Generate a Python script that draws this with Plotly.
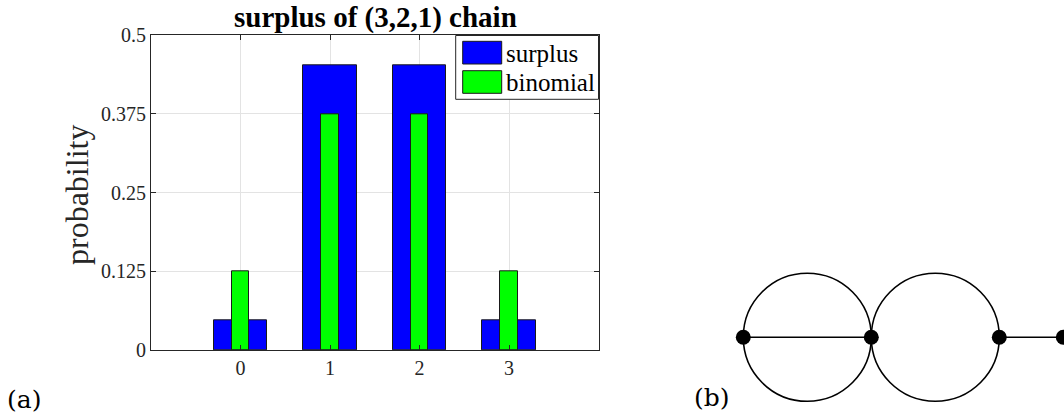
import plotly.graph_objects as go

# ---- data: panel (a) ----
categories = [0, 1, 2, 3]
surplus = [3/64, 29/64, 29/64, 3/64]
binomial = [1/8, 3/8, 3/8, 1/8]
ytick_vals = [0, 0.125, 0.25, 0.375, 0.5]
ytick_text = ["0", "0.125", "0.25", "0.375", "0.5"]
xtick_vals = [0, 1, 2, 3]
xtick_text = ["0", "1", "2", "3"]

# ---- data: panel (b) graph ----
node_x = [0, 2, 4, 5]
node_y = [0, 0, 0, 0]
edges = [(0, 1), (2, 3)]
circle_cx = [1, 3]
circle_cy = [0, 0]
circle_r = [1, 1]

W, H = 1064, 418
SERIF = "Liberation Serif, Times New Roman, serif"

def px(x):
    return x / W

def py(y):
    return 1 - y / H

fig = go.Figure()

fig.add_trace(go.Bar(x=categories, y=surplus, width=0.6, name="surplus",
                     marker=dict(color="#0000ff", line=dict(color="#1a1a1a", width=1)),
                     xaxis="x", yaxis="y", showlegend=False))
fig.add_trace(go.Bar(x=categories, y=binomial, width=0.2, name="binomial",
                     marker=dict(color="#00ff00", line=dict(color="#1a1a1a", width=1)),
                     xaxis="x", yaxis="y", showlegend=False))

# panel (b)
for a, b in edges:
    fig.add_trace(go.Scatter(x=[node_x[a], node_x[b]], y=[node_y[a], node_y[b]],
                             mode="lines", line=dict(color="black", width=1.6),
                             xaxis="x2", yaxis="y2", showlegend=False, hoverinfo="skip",
                             cliponaxis=False))
fig.add_trace(go.Scatter(x=node_x, y=node_y, mode="markers",
                         marker=dict(color="black", size=15),
                         xaxis="x2", yaxis="y2", showlegend=False, cliponaxis=False))

shapes = []
for cx, cy, r in zip(circle_cx, circle_cy, circle_r):
    shapes.append(dict(type="circle", xref="x2", yref="y2",
                       x0=cx - r, x1=cx + r, y0=cy - r, y1=cy + r,
                       line=dict(color="black", width=1.6), layer="below"))

# legend box (custom, MATLAB style)
shapes.append(dict(type="rect", xref="paper", yref="paper",
                   x0=px(455.7), x1=px(598.5), y0=py(99.3), y1=py(35.5),
                   fillcolor="white", line=dict(color="#262626", width=1)))
shapes.append(dict(type="rect", xref="paper", yref="paper",
                   x0=px(462.7), x1=px(501.7), y0=py(64), y1=py(41.3),
                   fillcolor="#0000ff", line=dict(color="#1a1a1a", width=1)))
shapes.append(dict(type="rect", xref="paper", yref="paper",
                   x0=px(462.7), x1=px(501.7), y0=py(93.3), y1=py(70.7),
                   fillcolor="#00ff00", line=dict(color="#1a1a1a", width=1)))

annotations = [
    dict(text="<b>surplus of (3,2,1) chain</b>", x=px(375.5), y=py(17), xref="paper", yref="paper",
         showarrow=False, xanchor="center", yanchor="middle", font=dict(family=SERIF, size=29, color="black")),
    dict(text="probability", x=px(77), y=py(195), xref="paper", yref="paper", textangle=-90,
         showarrow=False, xanchor="center", yanchor="middle", font=dict(family=SERIF, size=32, color="#262626")),
    dict(text="surplus", x=px(504), y=py(53.3), xref="paper", yref="paper",
         showarrow=False, xanchor="left", yanchor="middle", font=dict(family=SERIF, size=25, color="black")),
    dict(text="binomial", x=px(504), y=py(82.7), xref="paper", yref="paper",
         showarrow=False, xanchor="left", yanchor="middle", font=dict(family=SERIF, size=25, color="black")),
    dict(text="(a)", x=px(24), y=py(399), xref="paper", yref="paper",
         showarrow=False, xanchor="center", yanchor="middle", font=dict(family="DejaVu Serif", size=25, color="black")),
    dict(text="(b)", x=px(712), y=py(397), xref="paper", yref="paper",
         showarrow=False, xanchor="center", yanchor="middle", font=dict(family="DejaVu Serif", size=25, color="black")),
]

x2_left_px, unit_px, x2_origin_px = 647.0, 64.0, 743.3
y2_top_px, y2_origin_px = 250.0, 337.3

fig.update_layout(
    template="none",
    width=W, height=H, autosize=False,
    margin=dict(l=0, r=0, t=0, b=0, pad=0, autoexpand=False),
    paper_bgcolor="white", plot_bgcolor="white",
    barmode="overlay", bargap=0,
    showlegend=False,
    shapes=shapes, annotations=annotations,
    xaxis=dict(domain=[px(151), px(598.5)], range=[-1, 4], tickvals=xtick_vals, ticktext=xtick_text,
               showgrid=True, gridcolor="#e3e3e3", gridwidth=1, zeroline=False, automargin=False,
               showline=True, linecolor="#262626", linewidth=1, mirror="ticks",
               ticks="inside", ticklen=5, tickcolor="#262626",
               tickfont=dict(family=SERIF, size=20, color="#262626"), anchor="y", fixedrange=True),
    yaxis=dict(domain=[py(350), py(35.3)], range=[0, 0.5], tickvals=ytick_vals, ticktext=ytick_text,
               showgrid=True, gridcolor="#e3e3e3", gridwidth=1, zeroline=False, automargin=False,
               showline=True, linecolor="#262626", linewidth=1, mirror="ticks",
               ticks="inside", ticklen=5, tickcolor="#262626",
               tickfont=dict(family=SERIF, size=20, color="#262626"), anchor="x", fixedrange=True),
    xaxis2=dict(domain=[px(x2_left_px), 1.0],
                range=[(x2_left_px - x2_origin_px) / unit_px, (W - x2_origin_px) / unit_px],
                visible=False, anchor="y2", fixedrange=True, automargin=False),
    yaxis2=dict(domain=[0, py(y2_top_px)],
                range=[-(H - y2_origin_px) / unit_px, (y2_origin_px - y2_top_px) / unit_px],
                visible=False, anchor="x2", fixedrange=True, automargin=False),
)

fig.write_html("out.html")
